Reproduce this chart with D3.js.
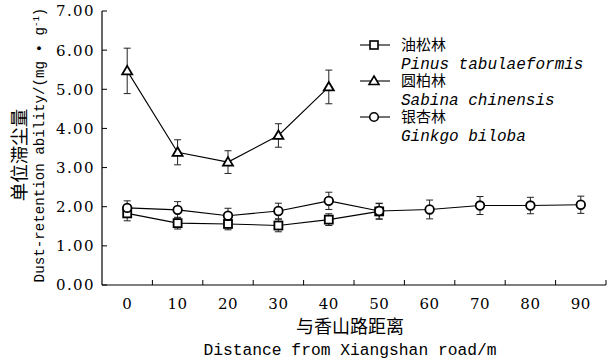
<!DOCTYPE html>
<html><head><meta charset="utf-8">
<script src="https://cdn.jsdelivr.net/npm/d3@7"></script>
<style>body{margin:0;background:#fff}svg{display:block}
.serif{font-family:"DejaVu Serif","Liberation Serif",serif}
.mono{font-family:"Liberation Mono","Courier New","DejaVu Sans Mono",monospace}
.cjk{font-family:"Noto Sans CJK SC","Noto Sans CJK JP",sans-serif}
</style>
</head><body>
<svg id="c" width="616" height="362"></svg>
<script>
const distances = [0,10,20,30,40,50,60,70,80,90];
const yTicks = [0,1,2,3,4,5,6,7];
const pinusMean = [1.83,1.58,1.56,1.52,1.67,1.88];
const pinusErr  = [0.19,0.15,0.15,0.16,0.15,0.20];
const sabinaMean = [5.47,3.39,3.14,3.82,5.06];
const sabinaErr  = [0.58,0.32,0.29,0.30,0.43];
const ginkgoMean = [1.97,1.92,1.77,1.89,2.15,1.89,1.93,2.03,2.03,2.05];
const ginkgoErr  = [0.18,0.21,0.19,0.20,0.22,0.20,0.24,0.23,0.21,0.22];
const seriesNames = [["油松林","Pinus tabulaeformis"],["圆柏林","Sabina chinensis"],["银杏林","Ginkgo biloba"]];

const svg = d3.select("#c");
const x = d3.scaleBand().domain(distances).range([102,606]).padding(0);
const y = d3.scaleLinear().domain([0,7]).range([285,11]);
const cx = d => x(d) + x.bandwidth()/2;

// axes
svg.append("line").attr("x1",102).attr("x2",102).attr("y1",y(7)).attr("y2",y(0)).attr("stroke","#000").attr("stroke-width",1.2);
svg.append("line").attr("x1",102).attr("x2",606).attr("y1",y(0)).attr("y2",y(0)).attr("stroke","#000").attr("stroke-width",1.2);
yTicks.forEach(t=>{
  svg.append("line").attr("x1",102).attr("x2",107).attr("y1",y(t)).attr("y2",y(t)).attr("stroke","#000");
  svg.append("text").attr("class","serif").attr("x",95).attr("y",y(t)).attr("dy","0.36em").attr("text-anchor","end")
    .attr("font-size",15).attr("letter-spacing",1.4).text(t.toFixed(2));
});
distances.forEach((d,i)=>{
  const bx = x(d)+x.bandwidth();
  svg.append("line").attr("x1",bx).attr("x2",bx).attr("y1",y(0)).attr("y2",y(0)-5).attr("stroke","#000");
  svg.append("text").attr("class","serif").attr("x",cx(d)).attr("y",309).attr("text-anchor","middle")
    .attr("font-size",15).attr("letter-spacing",0.5).text(d);
});

// axis titles
svg.append("text").attr("class","cjk").attr("x",350).attr("y",333).attr("text-anchor","middle")
  .attr("font-size",18).text("与香山路距离");
svg.append("text").attr("class","mono").attr("x",350).attr("y",355).attr("text-anchor","middle")
  .attr("font-size",16.3).text("Distance from Xiangshan road/m");
svg.append("text").attr("class","cjk").attr("transform","translate(26,155) rotate(-90)").attr("text-anchor","middle")
  .attr("font-size",18.5).text("单位滞尘量");
const yt = svg.append("text").attr("class","mono").attr("transform","translate(44,145) rotate(-90)").attr("text-anchor","middle")
  .attr("font-size",14.2);
yt.append("tspan").text("Dust-retention ability/(mg • g");
yt.append("tspan").attr("dy",-5).attr("font-size",9).text("-1");
yt.append("tspan").attr("dy",5).text(")");

// series
const series = [
  {mean:pinusMean, err:pinusErr, shape:"square"},
  {mean:sabinaMean, err:sabinaErr, shape:"triangle"},
  {mean:ginkgoMean, err:ginkgoErr, shape:"circle"}
];
function marker(g, shape, px, py){
  if(shape==="square") g.append("rect").attr("x",px-4).attr("y",py-4).attr("width",8).attr("height",8);
  else if(shape==="circle") g.append("circle").attr("cx",px).attr("cy",py).attr("r",4.3);
  else g.append("path").attr("d",`M${px},${py-5}L${px+5},${py+3.5}L${px-5},${py+3.5}Z`);
}
const line = d3.line().x((v,i)=>cx(distances[i])).y(v=>y(v));
series.forEach(s=>{
  svg.append("path").attr("d",line(s.mean)).attr("fill","none").attr("stroke","#000").attr("stroke-width",1.1);
});
series.forEach(s=>{
  const g = svg.append("g").attr("stroke","#222").attr("stroke-width",1);
  s.mean.forEach((v,i)=>{
    const px=cx(distances[i]), t=y(v+s.err[i]), b=y(v-s.err[i]);
    g.append("line").attr("x1",px).attr("x2",px).attr("y1",t).attr("y2",b);
    g.append("line").attr("x1",px-3.5).attr("x2",px+3.5).attr("y1",t).attr("y2",t);
    g.append("line").attr("x1",px-3.5).attr("x2",px+3.5).attr("y1",b).attr("y2",b);
  });
});
series.forEach(s=>{
  const g = svg.append("g").attr("fill","#fff").attr("stroke","#000").attr("stroke-width",1.8);
  s.mean.forEach((v,i)=>marker(g,s.shape,cx(distances[i]),y(v)));
});

// legend
series.forEach((s,i)=>{
  const ly = 45 + i*36;
  svg.append("line").attr("x1",360).attr("x2",390).attr("y1",ly).attr("y2",ly).attr("stroke","#000").attr("stroke-width",1.1);
  const g = svg.append("g").attr("fill","#fff").attr("stroke","#000").attr("stroke-width",1.6);
  marker(g,s.shape,374,ly);
  svg.append("text").attr("class","cjk").attr("x",401).attr("y",ly+4.5)
    .attr("font-size",15).text(seriesNames[i][0]);
  svg.append("text").attr("class","mono").attr("x",401).attr("y",ly+24).attr("font-style","italic")
    .attr("font-size",16).text(seriesNames[i][1]);
});
</script>
</body></html>
